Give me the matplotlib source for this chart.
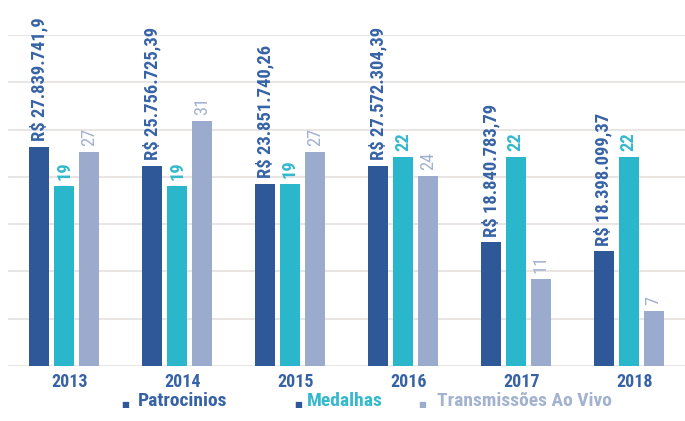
import matplotlib

matplotlib.use("Agg")
import matplotlib.pyplot as plt
import numpy as np
from matplotlib import font_manager

# Data
years = ["2013", "2014", "2015", "2016", "2017", "2018"]
series_names = ["Patrocinios", "Medalhas", "Transmissões Ao Vivo"]

patrocinios_labels = ["R$ 27.839.741,9", "R$ 25.756.725,39", "R$ 23.851.740,26",
                      "R$ 27.572.304,39", "R$ 18.840.783,79", "R$ 18.398.099,37"]
medalhas_labels = ["19", "19", "19", "22", "22", "22"]
transmissoes_labels = ["27", "31", "27", "24", "11", "7"]

# bar heights as drawn in the picture (in gridline units)
patrocinios_h = [4.64, 4.23, 3.85, 4.23, 2.62, 2.43]
medalhas_h = [3.81, 3.81, 3.85, 4.43, 4.43, 4.43]
transmissoes_h = [4.53, 5.19, 4.53, 4.02, 1.85, 1.17]

C_DARK = "#2f5899"
C_CYAN = "#2ab7cb"
C_GREY = "#9aabce"
TXT_DARK = "#3763a6"
TXT_CYAN = "#35b9cc"
TXT_GREY = "#a3b2cf"
GRID = "#e2dedb"

# pick a condensed face if one is installed
installed = {f.name for f in font_manager.fontManager.ttflist}
prefs = ["Roboto Condensed", "Barlow Condensed", "Archivo Narrow", "PT Sans Narrow",
         "Liberation Sans Narrow", "Open Sans Condensed", "Oswald"]
cond = next((p for p in prefs if p in installed), "DejaVu Sans")
FONT = [cond, "DejaVu Sans"]

fig = plt.figure(figsize=(6.85, 4.21), dpi=100)
fig.patch.set_facecolor("white")
W, H = 685, 421
ax = fig.add_axes([8 / W, (H - 366) / H, 1 - 8 / W, (366 - 35) / H])

x = np.arange(len(years))
pitch = 0.222
width = 0.177

series = [
    (patrocinios_h, patrocinios_labels, C_DARK, TXT_DARK, "bold"),
    (medalhas_h, medalhas_labels, C_CYAN, TXT_CYAN, "bold"),
    (transmissoes_h, transmissoes_labels, C_GREY, TXT_GREY, "normal"),
]

for k, (heights, labels, color, tcolor, weight) in enumerate(series):
    xs = x + (k - 1) * pitch
    ax.bar(xs, heights, width=width, color=color, zorder=3)
    for xi, h, lab in zip(xs, heights, labels):
        ax.annotate(lab, xy=(xi, h), xytext=(0, 4), textcoords="offset points",
                    rotation=90, ha="center", va="bottom", fontsize=13.3,
                    fontweight=weight, color=tcolor, family=FONT)

ax.set_xlim(-0.5, 5.5)
ax.set_ylim(0, 7)
for gy in range(0, 8):
    ax.axhline(gy, color=GRID, linewidth=1.1, zorder=1)

for xi, yr in zip(x, years):
    ax.annotate(yr, xy=(xi, 0), xytext=(4, -5), textcoords="offset points",
                ha="center", va="top", fontsize=13, fontweight="bold",
                color=TXT_DARK, family=FONT)

ax.set_xticks([])
ax.set_yticks([])
for sp in ax.spines.values():
    sp.set_visible(False)

# Manual legend
legend_items = [
    (125, 138, "Patrocinios", C_DARK, TXT_DARK),
    (298, 307, "Medalhas", C_DARK, TXT_CYAN),
    (422, 437, "Transmissões Ao Vivo", C_GREY, TXT_GREY),
]
for mx, tx, label, mcolor, tcolor in legend_items:
    fig.text(mx / W, 1 - 404 / H, "■", ha="center", va="center",
             fontsize=6, color=mcolor, family=["DejaVu Sans"])
    fig.text(tx / W, 1 - 401 / H, label, ha="left", va="center",
             fontsize=14, fontweight="bold", color=tcolor, family=FONT)

fig.savefig("out.png", dpi=100, facecolor="white")
